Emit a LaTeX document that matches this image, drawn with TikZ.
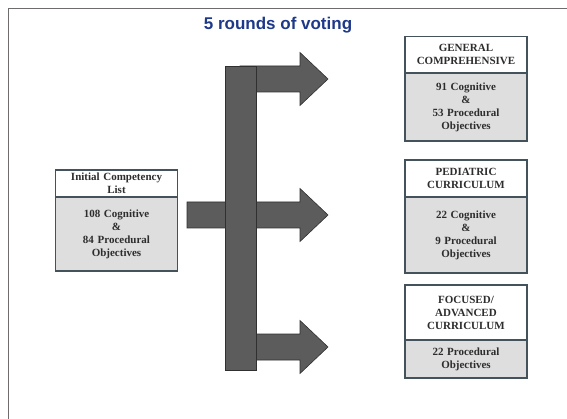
\documentclass[tikz,border=0pt]{standalone}
\usepackage{fontspec}
\setmainfont{Liberation Serif}
\newfontfamily\titlefont{Liberation Sans}
\usetikzlibrary{positioning}

\definecolor{boxline}{RGB}{68,82,92}
\definecolor{boxfill}{RGB}{222,222,222}
\definecolor{arrowfill}{RGB}{92,92,92}
\definecolor{arrowline}{RGB}{48,48,48}
\definecolor{titleblue}{RGB}{30,56,138}
\definecolor{framegray}{RGB}{112,108,110}
\definecolor{textgray}{RGB}{45,45,45}

\tikzset{
  head/.style={draw=boxline, line width=1.2pt, fill=white, text=textgray,
    font=\fontsize{11}{13}\selectfont\bfseries, align=center,
    text width=118pt, inner xsep=2pt, inner ysep=0pt, outer sep=0pt},
  body/.style={head, fill=boxfill},
  block/.style={fill=arrowfill, draw=arrowline, line width=0.6pt}
}

\begin{document}
\begin{tikzpicture}[x=1pt, y=-1pt]
    \useasboundingbox (0, 0) rectangle (567, 419);

    % Frame
    \draw [framegray, line width=1.4pt] (8.5, 419) -- (8.5, 8.5) -- (567, 8.5);

    % Title
    \node [font=\titlefont\fontsize{17}{20}\selectfont\bfseries, text=titleblue]
          (title) at (278, 25) {5 rounds of voting};

    % Arrows
    \draw [block] (240, 66) -- (300, 66) -- (300, 52.5) -- (328, 79)
          -- (300, 105.5) -- (300, 92) -- (240, 92) -- cycle;
    \draw [block] (187, 202) -- (300, 202) -- (300, 188.5) -- (328, 215)
          -- (300, 241.5) -- (300, 228) -- (187, 228) -- cycle;
    \draw [block] (240, 334) -- (300, 334) -- (300, 320.5) -- (328, 347)
          -- (300, 373.5) -- (300, 360) -- (240, 360) -- cycle;

    % Rounds bar
    \draw [block] (225, 66) rectangle (256, 370);

    % Initial list
    \node [head, minimum height=27pt] (init-head) at (116.5, 183.5)
          {Initial Competency\\List};
    \node [body, minimum height=74pt, below=0pt of init-head] (init-body)
          {108 Cognitive\\\&\\84 Procedural\\Objectives};

    % General comprehensive
    \node [head, minimum height=36.5pt] (gen-head) at (466, 54.75)
          {GENERAL\\COMPREHENSIVE};
    \node [body, minimum height=68pt, below=0pt of gen-head] (gen-body)
          {91 Cognitive\\\&\\53 Procedural\\Objectives};

    % Pediatric curriculum
    \node [head, minimum height=37pt] (ped-head) at (466, 178.5)
          {PEDIATRIC\\CURRICULUM};
    \node [body, minimum height=76pt, below=0pt of ped-head] (ped-body)
          {22 Cognitive\\\&\\9 Procedural\\Objectives};

    % Focused/advanced curriculum
    \node [head, minimum height=55pt] (foc-head) at (466, 312.5)
          {FOCUSED/\\ADVANCED\\CURRICULUM};
    \node [body, minimum height=38pt, below=0pt of foc-head] (foc-body)
          {22 Procedural\\Objectives};
  \end{tikzpicture}
\end{document}
